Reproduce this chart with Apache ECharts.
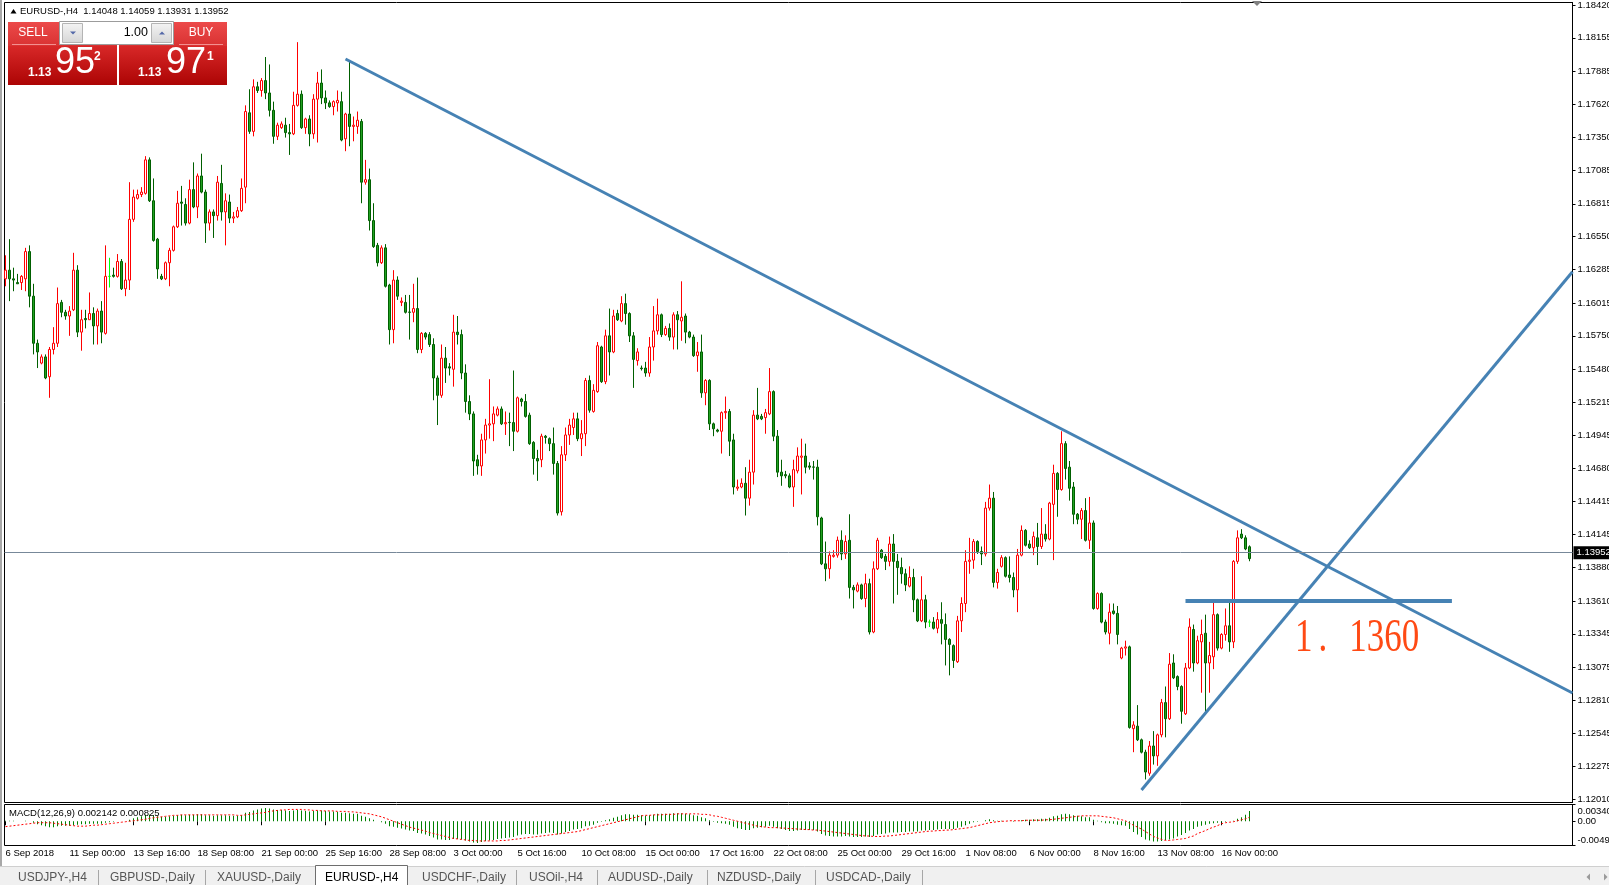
<!DOCTYPE html>
<html>
<head>
<meta charset="utf-8">
<title>EURUSD-,H4</title>
<script src="https://cdn.jsdelivr.net/npm/echarts@6.0.0/dist/echarts.min.js"></script>
<style>
html,body{margin:0;padding:0;background:#fff;overflow:hidden;}
#chart{width:1609px;height:885px;}
</style>
</head>
<body>
<div id="chart"></div>
<script>
// ================= DATA =================
const symbolName = 'EURUSD-,H4';
const lastBarOHLC = [1.14048, 1.14059, 1.13931, 1.13952]; // header O H L C
// H4 candles: [open, close, low, high]
const candles = [
[1.1621,1.1628,1.1615,1.1640],[1.1628,1.1621,1.1603,1.1653],[1.1621,1.1620,1.1611,1.1630],[1.1618,1.1617,1.1617,1.1625],[1.1618,1.1623,1.1612,1.1624],
[1.1621,1.1643,1.1611,1.1646],[1.1643,1.1607,1.1598,1.1648],[1.1607,1.1569,1.1560,1.1617],[1.1569,1.1562,1.1549,1.1572],[1.1553,1.1558,1.1552,1.1560],
[1.1558,1.1541,1.1540,1.1560],[1.1542,1.1564,1.1525,1.1566],[1.1564,1.1569,1.1560,1.1582],[1.1569,1.1601,1.1566,1.1614],[1.1602,1.1594,1.1590,1.1604],
[1.1594,1.1591,1.1588,1.1596],[1.1591,1.1595,1.1575,1.1599],[1.1596,1.1628,1.1595,1.1642],[1.1628,1.1578,1.1574,1.1632],[1.1578,1.1588,1.1563,1.1596],
[1.1589,1.1588,1.1581,1.1596],[1.1588,1.1593,1.1588,1.1610],[1.1593,1.1583,1.1568,1.1598],[1.1583,1.1595,1.1568,1.1597],[1.1595,1.1578,1.1569,1.1603],
[1.1577,1.1623,1.1576,1.1648],[1.1623,1.1623,1.1614,1.1638],[1.1624,1.1623,1.1622,1.1630],[1.1623,1.1635,1.1622,1.1641],[1.1635,1.1613,1.1612,1.1637],
[1.1613,1.1620,1.1607,1.1634],[1.1620,1.1669,1.1612,1.1699],[1.1669,1.1687,1.1667,1.1693],[1.1686,1.1689,1.1685,1.1693],[1.1689,1.1691,1.1687,1.1695],
[1.1690,1.1717,1.1689,1.1720],[1.1717,1.1684,1.1683,1.1719],[1.1684,1.1652,1.1651,1.1702],[1.1653,1.1629,1.1621,1.1654],[1.1623,1.1621,1.1620,1.1625],
[1.1621,1.1634,1.1620,1.1635],[1.1634,1.1644,1.1615,1.1646],[1.1644,1.1663,1.1643,1.1664],[1.1663,1.1682,1.1662,1.1692],[1.1683,1.1682,1.1664,1.1696],
[1.1681,1.1666,1.1664,1.1686],[1.1666,1.1693,1.1665,1.1701],[1.1693,1.1679,1.1678,1.1715],[1.1679,1.1704,1.1670,1.1706],[1.1704,1.1691,1.1690,1.1722],
[1.1691,1.1666,1.1650,1.1693],[1.1666,1.1675,1.1660,1.1677],[1.1675,1.1672,1.1654,1.1677],[1.1672,1.1699,1.1668,1.1704],[1.1698,1.1675,1.1668,1.1713],
[1.1675,1.1684,1.1648,1.1690],[1.1683,1.1670,1.1666,1.1689],[1.1670,1.1671,1.1666,1.1675],[1.1671,1.1676,1.1670,1.1679],[1.1676,1.1694,1.1675,1.1702],
[1.1695,1.1756,1.1682,1.1761],[1.1755,1.1740,1.1738,1.1774],[1.1740,1.1776,1.1736,1.1782],[1.1776,1.1773,1.1771,1.1780],[1.1773,1.1781,1.1768,1.1783],
[1.1781,1.1771,1.1766,1.1800],[1.1771,1.1757,1.1752,1.1794],[1.1757,1.1736,1.1730,1.1764],[1.1736,1.1745,1.1733,1.1747],[1.1743,1.1746,1.1742,1.1748],
[1.1745,1.1739,1.1735,1.1751],[1.1739,1.1738,1.1721,1.1746],[1.1738,1.1761,1.1737,1.1772],[1.1761,1.1770,1.1760,1.1812],[1.1770,1.1743,1.1742,1.1773],
[1.1743,1.1750,1.1738,1.1751],[1.1750,1.1738,1.1728,1.1753],[1.1738,1.1766,1.1734,1.1770],[1.1766,1.1779,1.1731,1.1788],[1.1779,1.1767,1.1762,1.1790],
[1.1767,1.1763,1.1758,1.1773],[1.1763,1.1760,1.1759,1.1765],[1.1760,1.1764,1.1753,1.1765],[1.1763,1.1765,1.1756,1.1773],[1.1764,1.1733,1.1732,1.1772],
[1.1734,1.1754,1.1724,1.1755],[1.1754,1.1744,1.1728,1.1797],[1.1744,1.1745,1.1732,1.1752],[1.1744,1.1749,1.1738,1.1756],[1.1748,1.1699,1.1682,1.1750],
[1.1699,1.1701,1.1697,1.1717],[1.1701,1.1668,1.1660,1.1710],[1.1668,1.1647,1.1646,1.1682],[1.1648,1.1634,1.1631,1.1650],[1.1634,1.1646,1.1633,1.1648],
[1.1646,1.1615,1.1614,1.1649],[1.1616,1.1580,1.1568,1.1617],[1.1580,1.1620,1.1569,1.1628],[1.1620,1.1607,1.1604,1.1623],[1.1602,1.1603,1.1599,1.1606],
[1.1602,1.1594,1.1593,1.1608],[1.15942,1.1594,1.1572,1.1608],[1.1594,1.1597,1.1586,1.1617],[1.1597,1.1564,1.1561,1.1622],[1.1564,1.1577,1.1561,1.1578],
[1.1577,1.1574,1.1572,1.1578],[1.1576,1.1568,1.1566,1.1578],[1.1568,1.1541,1.1523,1.1573],[1.1541,1.1527,1.1503,1.1543],[1.1527,1.1557,1.1525,1.1568],
[1.1557,1.1549,1.1537,1.1566],[1.1550,1.1549,1.1543,1.1553],[1.1548,1.1578,1.1534,1.1592],[1.1578,1.1576,1.1568,1.1591],[1.1576,1.1545,1.1540,1.1580],
[1.1545,1.1522,1.1513,1.1552],[1.1522,1.1512,1.1507,1.1527],[1.1512,1.1474,1.1462,1.1514],[1.1475,1.1470,1.1463,1.1479],[1.1470,1.1491,1.1462,1.1496],
[1.1491,1.1503,1.1480,1.1508],[1.1503,1.1504,1.1492,1.1540],[1.1504,1.1512,1.1490,1.1518],[1.1511,1.1516,1.1510,1.1518],[1.1516,1.1504,1.1503,1.1518],
[1.1504,1.1505,1.1495,1.1514],[1.15052,1.1505,1.1486,1.1513],[1.1505,1.1498,1.1482,1.1547],[1.1498,1.1525,1.1497,1.1526],[1.1524,1.1522,1.1518,1.1525],
[1.1522,1.1510,1.1509,1.1528],[1.1511,1.1488,1.1487,1.1513],[1.1489,1.1476,1.1463,1.1490],[1.1476,1.1474,1.1458,1.1483],[1.1475,1.1494,1.1469,1.1496],
[1.1494,1.1493,1.1488,1.1495],[1.1492,1.1488,1.1482,1.1493],[1.1488,1.1472,1.1463,1.1501],[1.1472,1.1432,1.1430,1.1474],[1.1433,1.1479,1.1430,1.1486],
[1.1479,1.1495,1.1474,1.1501],[1.1495,1.1503,1.1487,1.1508],[1.1501,1.1508,1.1495,1.1513],[1.1508,1.1492,1.1490,1.1513],[1.1492,1.1496,1.1478,1.1507],
[1.1496,1.1539,1.1486,1.1541],[1.1539,1.1515,1.1513,1.1543],[1.1514,1.1531,1.1513,1.1536],[1.1530,1.1567,1.1529,1.1570],[1.1566,1.1538,1.1537,1.1567],
[1.1538,1.1575,1.1536,1.1580],[1.1575,1.1562,1.1543,1.1597],[1.1562,1.1591,1.1561,1.1596],[1.1593,1.1588,1.1587,1.1596],[1.1587,1.1601,1.1586,1.1607],
[1.1601,1.1593,1.1584,1.1609],[1.1593,1.1575,1.1570,1.1594],[1.1575,1.1556,1.1533,1.1578],[1.1555,1.1562,1.1551,1.1565],[1.1549,1.15485,1.1547,1.1551],
[1.1549,1.1545,1.1542,1.1554],[1.1545,1.1566,1.1542,1.1574],[1.1566,1.1579,1.1555,1.1599],[1.1579,1.1592,1.1576,1.1605],[1.1592,1.1576,1.1574,1.1593],
[1.1576,1.1581,1.1575,1.1583],[1.1581,1.1574,1.1571,1.1585],[1.1574,1.1592,1.1564,1.1594],[1.1592,1.1588,1.1564,1.1595],[1.1587,1.1590,1.1571,1.1619],
[1.1591,1.1578,1.1569,1.1593],[1.1578,1.1574,1.1573,1.1579],[1.1574,1.1559,1.1558,1.1576],[1.1559,1.1562,1.1546,1.1570],[1.1562,1.1529,1.1525,1.1576],
[1.1529,1.1539,1.1519,1.1540],[1.1539,1.1504,1.1499,1.1540],[1.1504,1.1500,1.1494,1.1505],[1.1499,1.1498,1.1497,1.1500],[1.1498,1.1513,1.1480,1.1514],
[1.1513,1.1514,1.1508,1.1526],[1.1514,1.1490,1.1478,1.1516],[1.1491,1.1453,1.1447,1.1496],[1.1452,1.1453,1.1450,1.1459],[1.1453,1.1456,1.1452,1.1460],
[1.1456,1.1444,1.1430,1.1469],[1.1444,1.1465,1.1438,1.1475],[1.1465,1.1511,1.1455,1.1515],[1.1511,1.1508,1.1507,1.1533],[1.1510,1.1508,1.1507,1.1512],
[1.1509,1.1513,1.1496,1.1516],[1.1512,1.1530,1.1511,1.1549],[1.1530,1.1494,1.1490,1.1531],[1.1494,1.1465,1.1461,1.1499],[1.1465,1.1462,1.1454,1.1475],
[1.1463,1.1462,1.1460,1.1466],[1.1462,1.1453,1.1452,1.1464],[1.1453,1.1467,1.1437,1.1475],[1.1466,1.1478,1.1464,1.1485],[1.1477,1.1478,1.1447,1.1492],
[1.1478,1.1469,1.1464,1.1488],[1.1470,1.1469,1.1467,1.1473],[1.14692,1.1469,1.1459,1.1474],[1.1469,1.1429,1.1422,1.1475],[1.1428,1.1391,1.1390,1.1429],
[1.1391,1.1387,1.1377,1.1409],[1.1387,1.1398,1.1379,1.1401],[1.1397,1.1398,1.1396,1.1402],[1.1398,1.1410,1.1396,1.1413],[1.1410,1.1399,1.1394,1.1418],
[1.1399,1.1409,1.1395,1.1414],[1.1410,1.1372,1.1363,1.1431],[1.1372,1.1370,1.1355,1.1374],[1.1369,1.1374,1.1368,1.1376],[1.1374,1.1363,1.1362,1.1375],
[1.1363,1.1375,1.1356,1.1383],[1.1375,1.1336,1.1334,1.1379],[1.1336,1.1387,1.1335,1.1393],[1.1387,1.1410,1.1386,1.1412],[1.1402,1.1396,1.1395,1.1403],
[1.1397,1.1393,1.1386,1.1399],[1.1393,1.1407,1.1389,1.1413],[1.1407,1.1393,1.1359,1.1415],[1.1393,1.1388,1.1366,1.1399],[1.1388,1.1383,1.1375,1.1396],
[1.1383,1.1374,1.1369,1.1387],[1.1373,1.1380,1.1372,1.1389],[1.1380,1.1362,1.1352,1.1387],[1.1362,1.1345,1.1344,1.1363],[1.1345,1.1362,1.1344,1.1381],
[1.1362,1.1344,1.1339,1.1366],[1.1344,1.1344,1.1340,1.1346],[1.1344,1.1339,1.1338,1.1348],[1.1339,1.1346,1.1335,1.1352],[1.1346,1.1343,1.1326,1.1360],
[1.1342,1.1330,1.1309,1.1351],[1.1330,1.1326,1.1301,1.1331],[1.1325,1.1313,1.1307,1.1326],[1.1312,1.1345,1.1311,1.1349],[1.1345,1.1359,1.1336,1.1364],
[1.1359,1.1393,1.1352,1.1402],[1.1393,1.1394,1.1383,1.1412],[1.1394,1.1409,1.1387,1.1411],[1.1409,1.1401,1.1399,1.1410],[1.1401,1.1399,1.1390,1.1405],
[1.1399,1.1436,1.1397,1.1441],[1.1436,1.1444,1.1434,1.1455],[1.1444,1.1376,1.1372,1.1449],[1.1376,1.1384,1.1371,1.1387],[1.1389,1.1396,1.1388,1.1398],
[1.1396,1.1381,1.1380,1.1397],[1.1382,1.1380,1.1376,1.1397],[1.1380,1.1370,1.1364,1.1384],[1.1370,1.1398,1.1352,1.1403],[1.1398,1.1418,1.1397,1.1422],
[1.1418,1.1406,1.1405,1.1419],[1.1407,1.1404,1.1403,1.1410],[1.1404,1.1413,1.1398,1.1417],[1.1412,1.1405,1.1390,1.1424],[1.1405,1.1415,1.1403,1.1436],
[1.1415,1.1411,1.1409,1.1423],[1.1411,1.1440,1.1410,1.1441],[1.1439,1.1464,1.1394,1.1471],[1.1464,1.1451,1.1429,1.1465],[1.1451,1.1488,1.1450,1.1498],
[1.1488,1.1468,1.1459,1.1490],[1.1469,1.1452,1.1442,1.1474],[1.1453,1.1431,1.1423,1.1457],[1.1431,1.1427,1.1423,1.1432],[1.1427,1.1434,1.1411,1.1436],
[1.1434,1.1410,1.1409,1.1444],[1.1410,1.1424,1.1403,1.1445],[1.1424,1.1355,1.1354,1.1426],[1.1355,1.1367,1.1354,1.1368],[1.1367,1.1344,1.1343,1.1368],
[1.1344,1.1336,1.1334,1.1346],[1.1335,1.1352,1.1326,1.1359],[1.1353,1.1351,1.1350,1.1359],[1.1351,1.1334,1.1326,1.1357],[1.1315,1.1323,1.1314,1.1324],
[1.1323,1.1324,1.1317,1.1329],[1.1324,1.1259,1.1258,1.1325],[1.1258,1.1261,1.1239,1.1264],[1.1260,1.1249,1.1248,1.1277],[1.1249,1.1239,1.1238,1.1250],
[1.1239,1.1223,1.1217,1.1241],[1.1222,1.1244,1.1220,1.1248],[1.1244,1.1236,1.1229,1.1256],[1.1236,1.1253,1.1228,1.1254],[1.1253,1.1279,1.1251,1.1282],
[1.1279,1.1266,1.1251,1.1292],[1.1266,1.1310,1.1265,1.1319],[1.1311,1.1299,1.1298,1.1318],[1.1300,1.1292,1.1289,1.1301],[1.1292,1.1272,1.1262,1.1293],
[1.1270,1.1307,1.1269,1.1311],[1.1307,1.1340,1.1306,1.1347],[1.1338,1.1311,1.1304,1.1342],[1.1311,1.1329,1.1310,1.1333],[1.1328,1.1334,1.1287,1.1346],
[1.1335,1.1311,1.1269,1.1350],[1.1311,1.1317,1.1287,1.1328],[1.1316,1.1350,1.1306,1.1361],[1.1350,1.1323,1.1321,1.1351],[1.1323,1.1334,1.1322,1.1335],
[1.1334,1.1341,1.1329,1.1355],[1.1341,1.1328,1.1320,1.1362],[1.1328,1.1393,1.1323,1.1394],[1.1393,1.1412,1.1391,1.1418],[1.1415,1.1412,1.1411,1.1419],
[1.1412,1.1403,1.1402,1.1414],[1.14048,1.13952,1.13931,1.14059]
];
// MACD(12,26,9) main line per bar, in units of 0.0001
const macdMainE4 = [
1,1,1,0,0,1,0,-3,-6,-8,
-10,-12,-12,-10,-9,-9,
-9,-8,-7,-6,-6,-5,-5,-5,-5,-3,-2,-1,0,0,0,
3,6,8,10,13,13,12,10,9,9,
10,11,12,13,12,13,13,14,14,12,12,11,12,12,12,11,11,11,12,
17,19,22,24,26,27,26,24,23,23,22,
21,22,23,22,21,20,21,22,22,21,20,20,19,17,17,16,15,15,11,9,
6,3,0,-2,-5,-10,-11,-13,-15,-17,-19,-20,-24,-25,-27,
-30,-33,-37,-37,-38,-38,-36,-36,-37,-39,-41,-43,-44,-42,-40,-39,-38,-36,-35,-34,-33,-32,-29,-27,-26,-26,-27,-27,-25,-24,-23,-24,-27,-25,-22,-20,-17,-16,-14,-10,-9,-7,-3,-1,
2,4,7,9,12,14,14,13,13,12,11,12,13,15,15,15,15,16,16,16,15,14,12,11,8,6,2,-1,-3,-4,-5,-7,-11,-14,-16,-18,-18,
-14,-13,-12,-11,-9,-11,-14,-16,-18,-20,-20,-19,-18,-18,-18,-18,-21,-26,-29,-30,-31,-31,-31,-30,-31,-32,-32,-32,-31,-32,-30,-27,-26,-25,-23,-23,-23,-22,-22,-21,-21,-21,-19,-19,-18,-18,-17,-16,-16,-16,-16,
-13,-11,-7,-5,-2,-1,0,2,4,2,1,1,0,0,-1,0,2,3,3,4,4,5,5,7,10,11,14,15,14,12,11,10,8,8,3,1,-2,-4,-4,-5,-7,-8,-9,-16,-22,-27,-32,-37,-39,
-41,-41,-40,-38,-37,-35,-31,-28,-24,-19,-16,-11,-9,-7,-5,-4,-3,-2,-1,0,1,5,8,13,21
];
// MACD signal line per bar, in units of 0.0001
const macdSignalE4 = [
-11,-10,-9,-8,-7,-6,-5,-4,-3,-3,-3,
-3,-4,-5,-6,-7,-8,-9,-10,-10,-10,
-9,-8,-8,-7,-6,-5,-4,-3,-2,-1,
0,1,2,3,4,6,7,8,9,10,
11,12,12,13,13,13,13,13,13,13,
13,13,13,13,13,13,13,12,12,13,
14,15,16,17,18,20,21,22,23,23,
24,24,24,24,23,23,22,22,21,21,
21,21,20,20,20,19,19,18,17,16,
15,13,11,9,6,3,0,-3,-6,-9,
-12,-14,-16,-18,-20,-23,-25,-27,-29,-31,
-33,-35,-36,-37,-38,-39,-39,-40,-40,-40,
-40,-40,-40,-39,-39,-38,-37,-36,-35,-34,
-33,-32,-31,-30,-29,-28,-27,-26,-25,-24,
-23,-22,-21,-19,-17,-15,-13,-11,-9,-7,
-5,-3,-1,1,3,5,7,9,11,12,
12,13,13,13,14,14,14,15,15,15,
15,15,15,14,14,13,11,10,8,6,
4,2,0,-2,-4,-6,-8,-10,-11,-12,
-13,-13,-13,-14,-14,-15,-15,-16,-16,-17,
-17,-18,-18,-19,-20,-21,-22,-23,-24,-25,
-26,-27,-28,-29,-30,-30,-31,-31,-31,-30,
-30,-29,-28,-27,-26,-25,-24,-23,-22,-21,
-20,-20,-19,-19,-18,-18,-17,-16,-15,-14,
-13,-11,-9,-7,-5,-3,-2,-1,0,0,
1,1,1,1,2,2,2,2,2,3,
3,4,5,6,7,8,9,10,11,11,
11,11,11,10,9,8,7,5,3,1,
-4,-8,-12,-16,-21,-26,-31,-34,-37,-39,
-39,-38,-37,-36,-35,-32,-30,-25,-22,-19,
-15,-12,-9,-5,-3,-2,-1,1,3,5,8
];
const macdParams = '12,26,9';
const macdHeaderValues = ['0.002142', '0.000825'];
const priceTicks = [1.18420,1.18155,1.17885,1.17620,1.17350,1.17085,1.16815,1.16550,1.16285,1.16015,1.15750,1.15480,1.15215,1.14945,1.14680,1.14415,1.14145,1.13880,1.13610,1.13345,1.13075,1.12810,1.12545,1.12275,1.12010];
const macdTicks = [0.0034, 0, -0.00493];
const timeTickBars = [0,16,32,48,64,80,96,112,128,144,160,176,192,208,224,240,256,272,288,304];
const timeTickLabels = ['6 Sep 2018','11 Sep 00:00','13 Sep 16:00','18 Sep 08:00','21 Sep 00:00','25 Sep 16:00','28 Sep 08:00','3 Oct 00:00','5 Oct 16:00','10 Oct 08:00','15 Oct 00:00','17 Oct 16:00','22 Oct 08:00','25 Oct 00:00','29 Oct 16:00','1 Nov 08:00','6 Nov 00:00','8 Nov 16:00','13 Nov 08:00','16 Nov 00:00'];
// drawn objects, in [bar index, price]
const downTrend = [[85, 1.17984], [391.75, 1.12868]];
const upTrend = [[284, 1.12085], [391.75, 1.16267]];
const levelLine = [[295, 1.1361], [361.6, 1.1361]];
const levelText = '1.1360';
const levelTextAt = [322.4, 1.1330];
const tabLabels = ['USDJPY-,H4','GBPUSD-,Daily','XAUUSD-,Daily','EURUSD-,H4','USDCHF-,Daily','USOil-,H4','AUDUSD-,Daily','NZDUSD-,Daily','USDCAD-,Daily'];
const activeTab = 3;
const sellQuote = {head:'1.13', big:'95', pip:'2'};
const buyQuote = {head:'1.13', big:'97', pip:'1'};
const lotSize = '1.00';

// ================= CHART =================
const FONT = 'Liberation Sans';
const X_MIN = -0.25, X_MAX = 391.75;
const chart = echarts.init(document.getElementById('chart'), null, {renderer:'canvas', width:1609, height:885});

const candleData = candles.map((c, i) => [i, c[0], c[1], c[2], c[3]]);
const macdMain = macdMainE4.map((v, i) => [i, v / 10000]);
const macdSignal = macdSignalE4.map((v, i) => [i, v / 10000]);

const option = {
  animation: false,
  backgroundColor: '#ffffff',
  grid: [
    {left: 4.5, top: 2.5, width: 1568, height: 800, show: true, borderColor: '#000', borderWidth: 1, backgroundColor: '#fff', containLabel: false, outerBoundsMode: 'none'},
    {left: 4.5, top: 804.5, width: 1568, height: 41, show: true, borderColor: '#000', borderWidth: 1, backgroundColor: '#fff', containLabel: false, outerBoundsMode: 'none'}
  ],
  xAxis: [
    {type: 'value', gridIndex: 0, min: X_MIN, max: X_MAX, show: false, splitLine: {show: false}},
    {type: 'value', gridIndex: 1, min: X_MIN, max: X_MAX, splitLine: {show: false}, axisLine: {show: false},
     axisTick: {show: true, customValues: timeTickBars, length: 4, inside: false, lineStyle: {color: '#000', width: 1}},
     axisLabel: {show: true, customValues: timeTickBars, formatter: v => timeTickLabels[timeTickBars.indexOf(v)] || '',
                 align: 'left', margin: 3, fontSize: 9.5, fontFamily: FONT, color: '#000', hideOverlap: false}}
  ],
  yAxis: [
    {type: 'value', gridIndex: 0, position: 'right', min: 1.11984, max: 1.18440, splitLine: {show: false},
     axisLine: {show: true, onZero: false, lineStyle: {color: '#000'}},
     axisTick: {show: true, customValues: priceTicks, length: 3, lineStyle: {color: '#000'}},
     axisLabel: {show: true, customValues: priceTicks, formatter: v => v.toFixed(5), margin: 5, fontSize: 9.5, fontFamily: FONT, color: '#000', hideOverlap: false}},
    {type: 'value', gridIndex: 1, position: 'right', min: -0.00493, max: 0.0034, splitLine: {show: false},
     axisLine: {show: true, onZero: false, lineStyle: {color: '#000'}},
     axisTick: {show: true, customValues: macdTicks, length: 3, lineStyle: {color: '#000'}},
     axisLabel: {show: true, customValues: macdTicks, margin: 5, fontSize: 9.5, fontFamily: FONT, color: '#000', hideOverlap: false,
       formatter: v => v > 0 ? '{t|' + v.toFixed(5) + '}' : (v < 0 ? '{b|' + v.toFixed(5) + '}' : '0.00'),
       rich: {t: {padding: [13, 0, 0, 0], fontSize: 9.5, fontFamily: FONT, color: '#000'},
              b: {padding: [0, 0, 11, 0], fontSize: 9.5, fontFamily: FONT, color: '#000'}}}}
  ],
  series: [
    {type: 'candlestick', name: symbolName, xAxisIndex: 0, yAxisIndex: 0, data: candleData, barWidth: 2, large: false, silent: true,
     itemStyle: {color: '#ffffff', color0: '#22A222', borderColor: '#FF0000', borderColor0: '#005F00', borderColorDoji: '#00FF00', borderWidth: 1},
     markLine: {silent: true, symbol: ['none', 'none'], animation: false,
       lineStyle: {color: '#778899', width: 1, type: 'solid'},
       label: {show: true, position: 'end', formatter: lastBarOHLC[3].toFixed(5), color: '#fff', backgroundColor: '#000',
               fontSize: 9.5, fontFamily: FONT, padding: [2, 4, 1, 3], distance: 1},
       emphasis: {disabled: true},
       data: [{yAxis: lastBarOHLC[3]}]}},
    {type: 'line', xAxisIndex: 0, yAxisIndex: 0, data: downTrend, symbol: 'none', silent: true, z: 4,
     lineStyle: {color: '#4682B4', width: 3}},
    {type: 'line', xAxisIndex: 0, yAxisIndex: 0, data: upTrend, symbol: 'none', silent: true, z: 4,
     lineStyle: {color: '#4682B4', width: 3}},
    {type: 'line', xAxisIndex: 0, yAxisIndex: 0, data: levelLine, symbol: 'none', silent: true, z: 4,
     lineStyle: {color: '#4682B4', width: 4}},
    {type: 'bar', name: 'MACD', xAxisIndex: 1, yAxisIndex: 1, data: macdMain, barWidth: 1, silent: true, large: false,
     itemStyle: {color: '#008000'}},
    {type: 'line', name: 'Signal', xAxisIndex: 1, yAxisIndex: 1, data: macdSignal, symbol: 'none', silent: true, z: 5,
     lineStyle: {color: '#FF0000', width: 1, type: [2, 2]}}
  ]
};
chart.setOption(option);

// ---------- chrome and annotations ----------
function txt(x, y, text, size, color, extra, z) {
  const style = Object.assign({text: text, fontSize: size, fontFamily: FONT, fill: color, align: 'left', verticalAlign: 'middle'}, extra || {});
  return {type: 'text', x: x, y: y, silent: true, z: z || 120, style: style};
}
function vgrad(a, b) {
  return {type: 'linear', x: 0, y: 0, x2: 0, y2: 1, colorStops: [{offset: 0, color: a}, {offset: 1, color: b}]};
}
const G = [];
// window edge
G.push({type: 'rect', silent: true, z: 90, shape: {x: 0, y: 0, width: 2, height: 866}, style: {fill: '#A8A8A8'}});
// header line
G.push({type: 'polygon', silent: true, z: 100, shape: {points: [[10.5, 13.5], [16.5, 13.5], [13.5, 9]]}, style: {fill: '#000'}});
G.push(txt(20, 11, symbolName + '  ' + lastBarOHLC.map(v => v.toFixed(5)).join(' '), 9.5, '#000'));
// one-click trading panel
[[8, 109], [119, 108]].forEach(([x0, w]) => {
  G.push({type: 'rect', silent: true, z: 100, shape: {x: x0, y: 22, width: w, height: 24}, style: {fill: vgrad('#EC4A4A', '#D93232')}});
  G.push({type: 'rect', silent: true, z: 100, shape: {x: x0, y: 46, width: w, height: 39}, style: {fill: vgrad('#D82828', '#AC0404')}});
});
G.push({type: 'line', silent: true, z: 101, shape: {x1: 12, y1: 44.5, x2: 56, y2: 44.5}, style: {stroke: '#F39090', lineWidth: 1}});
G.push({type: 'line', silent: true, z: 101, shape: {x1: 179, y1: 44.5, x2: 223, y2: 44.5}, style: {stroke: '#F39090', lineWidth: 1}});
G.push(txt(33, 33, 'SELL', 12, '#fff', {align: 'center'}));
G.push(txt(201, 33, 'BUY', 12, '#fff', {align: 'center'}));
G.push({type: 'rect', silent: true, z: 102, shape: {x: 59.5, y: 21.5, width: 114, height: 23}, style: {fill: '#fff', stroke: '#9C9C9C', lineWidth: 1}});
G.push({type: 'rect', silent: true, z: 103, shape: {x: 62.5, y: 23.5, width: 20, height: 19}, style: {fill: vgrad('#F4F4F4', '#D6D6D6'), stroke: '#B4B4B4', lineWidth: 1}});
G.push({type: 'rect', silent: true, z: 103, shape: {x: 151.5, y: 23.5, width: 20, height: 19}, style: {fill: vgrad('#F4F4F4', '#D6D6D6'), stroke: '#B4B4B4', lineWidth: 1}});
G.push({type: 'polygon', silent: true, z: 104, shape: {points: [[70, 31.5], [76, 31.5], [73, 34.5]]}, style: {fill: '#5468A8'}});
G.push({type: 'polygon', silent: true, z: 104, shape: {points: [[159, 34.5], [165, 34.5], [162, 31.5]]}, style: {fill: '#5468A8'}});
G.push(txt(148, 33, lotSize, 12.5, '#000', {align: 'right'}, 130));
[[28, 55, 94, sellQuote], [138, 166, 207, buyQuote]].forEach(([xh, xb, xp, q]) => {
  G.push(txt(xh, 72.5, q.head, 12, '#fff', {fontWeight: 'bold'}));
  G.push(txt(xb, 63, q.big, 36, '#fff'));
  G.push(txt(xp, 56.5, q.pip, 12, '#fff', {fontWeight: 'bold'}));
});
// MACD label
G.push(txt(9, 813.5, 'MACD(' + macdParams + ') ' + macdHeaderValues.join(' '), 9.5, '#000'));
// chart shift marker
G.push({type: 'polygon', silent: true, z: 100, shape: {points: [[1252, 1], [1262, 1], [1257, 6]]}, style: {fill: '#808080'}});
// bottom tab bar
G.push({type: 'rect', silent: true, z: 90, shape: {x: 0, y: 866, width: 1609, height: 19}, style: {fill: '#F0F0F0'}});
G.push({type: 'line', silent: true, z: 91, shape: {x1: 0, y1: 866.5, x2: 1609, y2: 866.5}, style: {stroke: '#CFCFCF', lineWidth: 1}});
const tabX = [18, 110, 217, 325, 422, 529, 608, 717, 826];
const tabSep = [98.5, 205.5, 516.5, 597.5, 707.5, 815.5, 922.5];
G.push({type: 'rect', silent: true, z: 92, shape: {x: 315.5, y: 865.5, width: 92, height: 21}, style: {fill: '#fff', stroke: '#6E6E6E', lineWidth: 1}});
tabSep.forEach(x => G.push({type: 'line', silent: true, z: 92, shape: {x1: x, y1: 870, x2: x, y2: 885}, style: {stroke: '#A6A6A6', lineWidth: 1}}));
tabLabels.forEach((t, k) => G.push(txt(tabX[k], 877.5, t, 12, k === activeTab ? '#000' : '#555', {})));
G.push({type: 'polygon', silent: true, z: 93, shape: {points: [[1590, 873.5], [1590, 880.5], [1586.5, 877]]}, style: {fill: '#9A9A9A'}});
G.push({type: 'polygon', silent: true, z: 93, shape: {points: [[1604, 873.5], [1604, 880.5], [1607.5, 877]]}, style: {fill: '#9A9A9A'}});
// level annotation, placed from data coordinates
const lp = chart.convertToPixel({gridIndex: 0}, levelTextAt);
const dot = levelText.indexOf('.');
const SERIF = 'Liberation Serif';
G.push({type: 'text', silent: true, z: 110, x: lp[0], y: lp[1], scaleY: 1.3,
  style: {text: '{a|' + levelText.slice(0, dot) + '}{d|.}{b|' + levelText.slice(dot + 1) + '}', align: 'left', verticalAlign: 'middle',
          fontSize: 35, fontFamily: SERIF, fill: '#FF4A14',
          rich: {a: {fontSize: 35, fontFamily: SERIF, fill: '#FF4A14'},
                 d: {fontSize: 35, fontFamily: SERIF, fill: '#FF4A14', padding: [0, 22, 0, 6]},
                 b: {fontSize: 35, fontFamily: SERIF, fill: '#FF4A14'}}}});
chart.setOption({graphic: G});
</script>
</body>
</html>
